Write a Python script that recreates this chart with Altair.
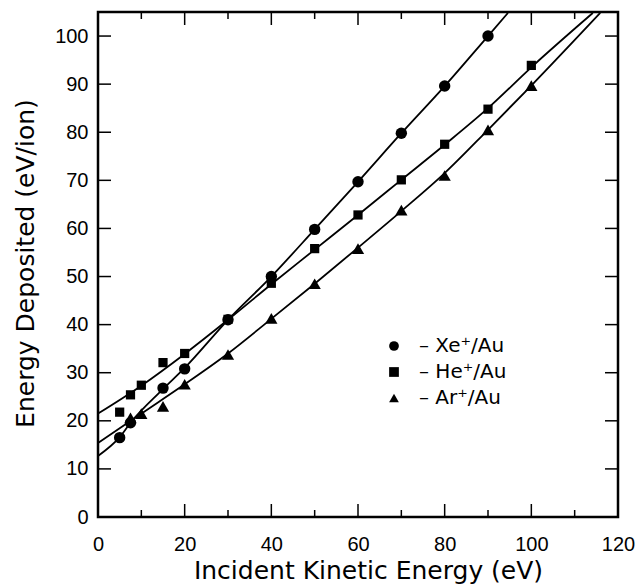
import altair as alt
import pandas as pd

# ---- data ----
ions = ["Xe⁺/Au", "He⁺/Au", "Ar⁺/Au"]

xe_x = [5, 7.5, 15, 20, 30, 40, 50, 60, 70, 80, 90]
xe_y = [16.5, 19.6, 26.8, 30.8, 41.0, 50.0, 59.8, 69.7, 79.8, 89.6, 100.0]
he_x = [5, 7.5, 10, 15, 20, 30, 40, 50, 60, 70, 80, 90, 100]
he_y = [21.8, 25.4, 27.4, 32.1, 34.0, 41.1, 48.6, 55.8, 62.8, 70.1, 77.5, 84.8, 93.9]
ar_x = [7.5, 10, 15, 20, 30, 40, 50, 60, 70, 80, 90, 100]
ar_y = [20.6, 21.5, 23.0, 27.6, 33.8, 41.3, 48.5, 55.8, 63.8, 71.0, 80.5, 89.7]

# drawn curves
xe_fit_x = [0, 5, 7.5, 15, 20, 30, 40, 50, 60, 70, 80, 90, 94.6]
xe_fit_y = [12.7, 16.6, 19.6, 26.6, 31.0, 41.0, 50.0, 59.8, 69.7, 79.8, 89.6, 100.0, 104.8]
he_fit_x = [0, 10, 20, 30, 40, 50, 60, 70, 80, 90, 100, 114.2]
he_fit_y = [21.5, 27.3, 33.9, 41.0, 48.4, 55.6, 62.8, 70.1, 77.4, 85.0, 93.5, 104.8]
ar_fit_x = [0, 10, 20, 30, 40, 50, 60, 70, 80, 90, 100, 115.9]
ar_fit_y = [15.4, 21.5, 27.6, 34.0, 41.2, 48.5, 56.0, 63.6, 71.5, 80.5, 89.7, 104.8]

x_major = [20, 40, 60, 80, 100]
x_minor = [10, 30, 50, 70, 90, 110]
y_ticks = [10, 20, 30, 40, 50, 60, 70, 80, 90, 100]
x_labels = [0, 20, 40, 60, 80, 100, 120]
y_labels = [0, 10, 20, 30, 40, 50, 60, 70, 80, 90, 100]

W, H = 520, 505
MAJ, MIN = 13, 7

fits = pd.DataFrame({
    "x": xe_fit_x + he_fit_x + ar_fit_x,
    "y": xe_fit_y + he_fit_y + ar_fit_y,
    "ion": [ions[0]] * len(xe_fit_x) + [ions[1]] * len(he_fit_x) + [ions[2]] * len(ar_fit_x),
})

x_scale = alt.Scale(domain=[0, 120], nice=False, zero=False)
y_scale = alt.Scale(domain=[0, 105], nice=False, zero=False)

X = alt.X("x:Q", scale=x_scale, axis=alt.Axis(
    values=x_labels, ticks=False, tickSize=0, domain=False, grid=False,
    labelFont="Liberation Sans", labelFontSize=20, labelColor="black", labelPadding=17,
    labelFlush=False,
    title="Incident Kinetic Energy (eV)", titleFont="DejaVu Sans", titleFontSize=25,
    titleFontWeight="normal", titleColor="black", titleX=270, titleY=61,
    titleBaseline="alphabetic", titleAlign="center"))
Y = alt.Y("y:Q", scale=y_scale, axis=alt.Axis(
    values=y_labels, ticks=False, tickSize=0, domain=False, grid=False,
    labelFont="Liberation Sans", labelFontSize=20, labelColor="black", labelPadding=10,
    labelFlush=False,
    title="Energy Deposited (eV/ion)", titleFont="DejaVu Sans", titleFontSize=25,
    titleFontWeight="normal", titleColor="black", titleAngle=270, titleX=-65, titleY=251,
    titleBaseline="alphabetic", titleAlign="center"))

SHAPE = alt.Shape("ion:N", scale=alt.Scale(domain=ions, range=["circle", "square", "triangle-up"]),
                  legend=alt.Legend(orient="none", legendX=286, legendY=324, title=None,
                                    labelFont="DejaVu Sans", labelFontSize=20, labelColor="black",
                                    symbolSize=95, symbolFillColor="black", symbolStrokeWidth=0,
                                    rowPadding=6, labelOffset=15, padding=0,
                                    labelExpr="'–  ' + datum.label"))

lines = alt.Chart(fits).mark_line(color="black", strokeWidth=1.8, interpolate="monotone").encode(
    x=X, y=Y, detail="ion:N")

def pts_layer(xs, ys, name, size):
    df = pd.DataFrame({"x": xs, "y": ys, "ion": [name] * len(xs)})
    return alt.Chart(df).mark_point(filled=True, color="black", opacity=1, size=size).encode(
        x=X, y=Y, shape=SHAPE)

def xt(vals, length, top):
    df = pd.DataFrame({"x": vals})
    if top:
        return alt.Chart(df).mark_rule(color="black", strokeWidth=1.5).encode(
            x=X, y=alt.value(0), y2=alt.value(length))
    return alt.Chart(df).mark_rule(color="black", strokeWidth=1.5).encode(
        x=X, y=alt.value(H), y2=alt.value(H - length))

def yt(vals, length, right):
    df = pd.DataFrame({"y": vals})
    if right:
        return alt.Chart(df).mark_rule(color="black", strokeWidth=1.5).encode(
            y=Y, x=alt.value(W), x2=alt.value(W - length))
    return alt.Chart(df).mark_rule(color="black", strokeWidth=1.5).encode(
        y=Y, x=alt.value(0), x2=alt.value(length))

chart = alt.layer(
    xt(x_major, MAJ, False), xt(x_minor, MIN, False),
    xt(x_major, MAJ, True), xt(x_minor, MIN, True),
    yt(y_ticks, MAJ, False), yt(y_ticks, MAJ, True),
    lines,
    pts_layer(xe_x, xe_y, ions[0], 130),
    pts_layer(he_x, he_y, ions[1], 85),
    pts_layer(ar_x, ar_y, ions[2], 150),
).properties(
    width=W, height=H,
    autosize=alt.AutoSizeParams(type="none"),
    padding={"left": 98, "top": 12, "right": 21, "bottom": 69},
    background="white",
).configure_view(stroke="black", strokeWidth=2.5)

chart.save("out.html", embed_options={"renderer": "svg", "actions": False})
